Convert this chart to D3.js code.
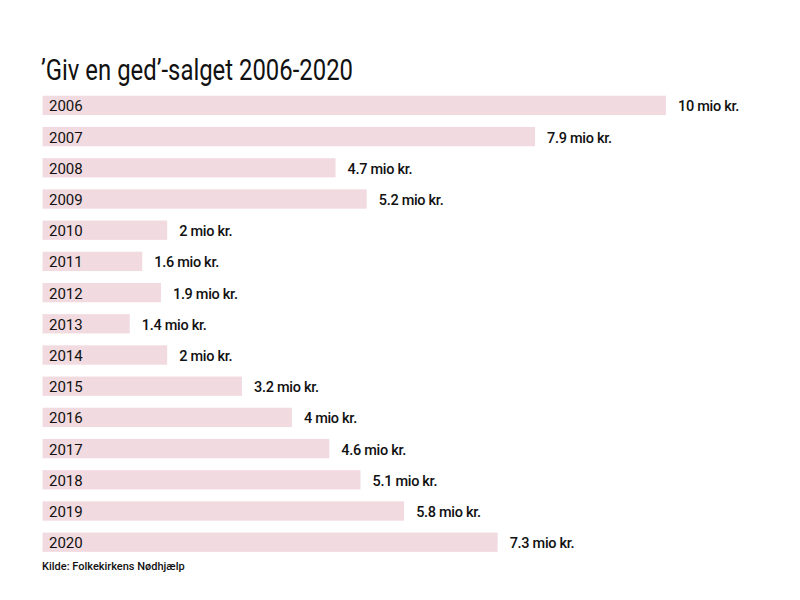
<!DOCTYPE html>
<html><head><meta charset="utf-8">
<script src="https://cdn.jsdelivr.net/npm/d3@7"></script>
<style>body{margin:0;background:#fff}svg{display:block}</style>
</head><body>
<svg id="c" width="800" height="600"></svg>
<script>
const title = "’Giv en ged’-salget 2006-2020";
const source = "Kilde: Folkekirkens Nødhjælp";
const years = ["2006","2007","2008","2009","2010","2011","2012","2013","2014","2015","2016","2017","2018","2019","2020"];
const values = [10, 7.9, 4.7, 5.2, 2, 1.6, 1.9, 1.4, 2, 3.2, 4, 4.6, 5.1, 5.8, 7.3];
const valueLabels = ["10 mio kr.","7.9 mio kr.","4.7 mio kr.","5.2 mio kr.","2 mio kr.","1.6 mio kr.","1.9 mio kr.","1.4 mio kr.","2 mio kr.","3.2 mio kr.","4 mio kr.","4.6 mio kr.","5.1 mio kr.","5.8 mio kr.","7.3 mio kr."];

const svg = d3.select("#c");
const font = "Roboto, 'Open Sans', sans-serif";
const x = d3.scaleLinear().domain([0,10]).range([42.5,666]);
const y = d3.scaleBand().domain(years).range([89.8,557.8]).paddingInner(0.38).paddingOuter(0.19);

svg.append("text").attr("x",41).attr("y",80).attr("font-family",font)
  .attr("font-size",29).attr("fill","#111").attr("textLength",312).attr("lengthAdjust","spacingAndGlyphs")
  .text(title);

const g = svg.append("g");
const data = years.map((yr,i)=>({yr, v:values[i], lab:valueLabels[i]}));
g.selectAll("rect").data(data).join("rect")
  .attr("x",x(0)).attr("y",d=>y(d.yr)).attr("width",d=>x(d.v)-x(0)).attr("height",y.bandwidth())
  .attr("fill","#f2dbe0");
g.selectAll("text.yr").data(data).join("text").attr("class","yr")
  .attr("x",49).attr("y",d=>y(d.yr)+y.bandwidth()/2+6)
  .attr("font-family",font).attr("font-size",15).attr("fill","#111").text(d=>d.yr);
g.selectAll("text.val").data(data).join("text").attr("class","val")
  .attr("x",d=>x(d.v)+12).attr("y",d=>y(d.yr)+y.bandwidth()/2+6)
  .attr("font-family",font).attr("font-size",14.5).attr("font-weight",500).attr("fill","#111")
  .attr("letter-spacing",-0.3).text(d=>d.lab);

svg.append("text").attr("x",42).attr("y",570).attr("font-family",font)
  .attr("font-size",11).attr("font-weight",500).attr("fill","#111").text(source);
</script>
</body></html>
